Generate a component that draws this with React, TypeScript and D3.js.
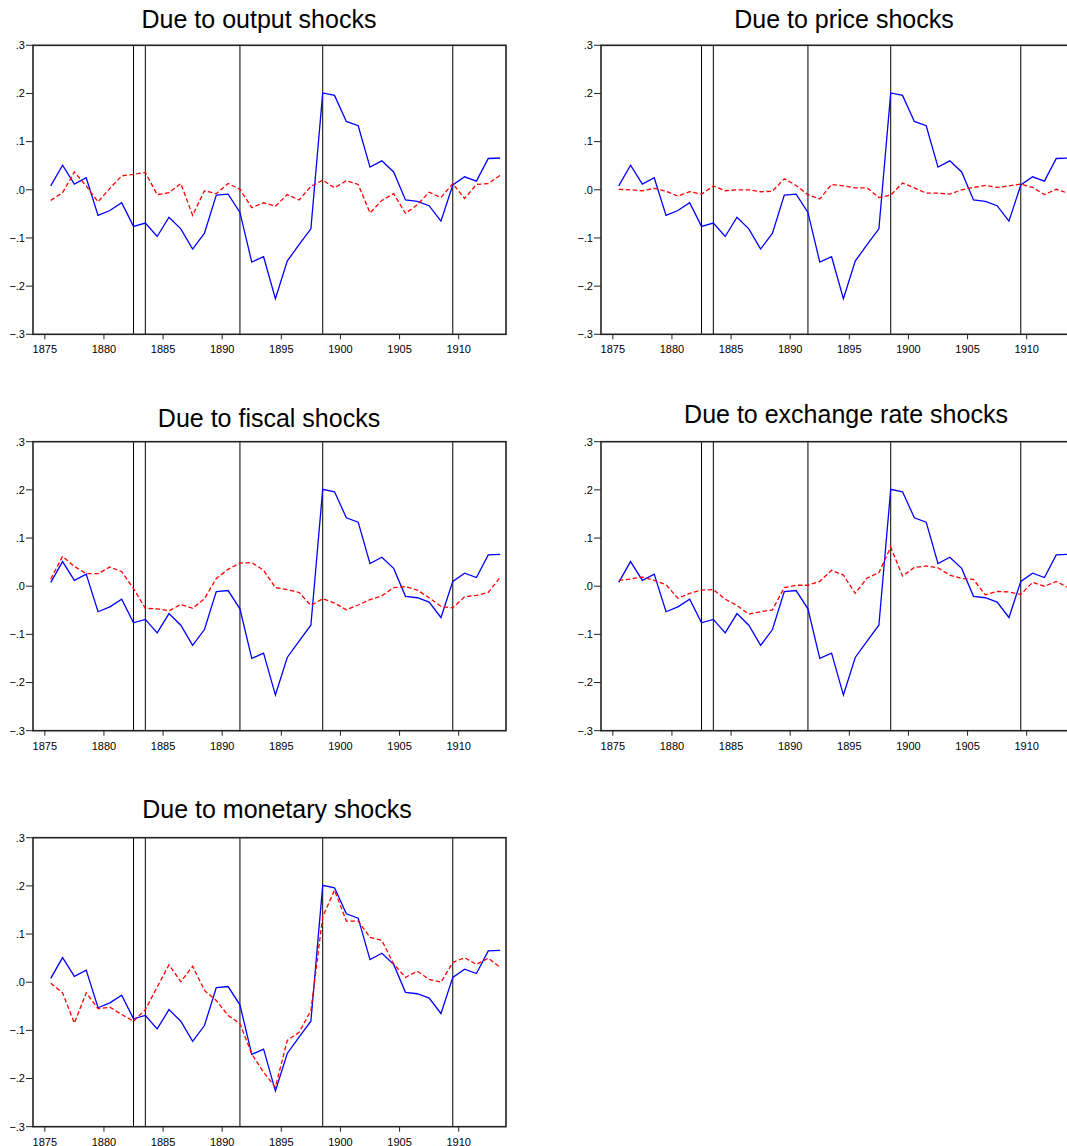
import React from 'react';
import * as d3 from 'd3';

// annual observations
const years = [
  1875, 1876, 1877, 1878, 1879, 1880, 1881, 1882, 1883, 1884,
  1885, 1886, 1887, 1888, 1889, 1890, 1891, 1892, 1893, 1894,
  1895, 1896, 1897, 1898, 1899, 1900, 1901, 1902, 1903, 1904,
  1905, 1906, 1907, 1908, 1909, 1910, 1911, 1912, 1913
];

// vertical reference lines (observation years)
const markYears = [1882, 1883, 1891, 1898, 1909];

const xTicks = [1875, 1880, 1885, 1890, 1895, 1900, 1905, 1910];
const yTicks = [-0.3, -0.2, -0.1, 0, 0.1, 0.2, 0.3];

// blue solid line, same in every panel
const actual = [
  0.008, 0.051, 0.012, 0.025, -0.053, -0.043, -0.027, -0.076, -0.069, -0.097,
  -0.057, -0.081, -0.123, -0.090, -0.011, -0.009, -0.047, -0.150, -0.139, -0.226,
  -0.148, -0.114, -0.081, 0.201, 0.196, 0.142, 0.133, 0.047, 0.060, 0.037,
  -0.021, -0.024, -0.033, -0.065, 0.010, 0.027, 0.018, 0.065, 0.066
];

// red dashed lines
const outputShocks = [
  -0.022, -0.006, 0.037, 0.008, -0.025, 0.003, 0.029, 0.032, 0.036, -0.010,
  -0.006, 0.013, -0.053, -0.002, -0.008, 0.013, 0.001, -0.037, -0.027, -0.034,
  -0.010, -0.021, 0.007, 0.020, 0.004, 0.019, 0.011, -0.048, -0.022, -0.008,
  -0.049, -0.031, -0.005, -0.016, 0.013, -0.018, 0.011, 0.013, 0.030
];

const priceShocks = [
  0.001, 0.000, -0.002, 0.003, -0.003, -0.013, -0.004, -0.009, 0.008, -0.002,
  0.000, 0.000, -0.004, -0.003, 0.023, 0.009, -0.010, -0.019, 0.011, 0.008,
  0.004, 0.004, -0.016, -0.011, 0.014, 0.004, -0.007, -0.007, -0.009, 0.000,
  0.005, 0.009, 0.005, 0.008, 0.012, 0.005, -0.010, 0.001, -0.007
];

const fiscalShocks = [
  0.015, 0.062, 0.041, 0.026, 0.026, 0.040, 0.030, -0.005, -0.046, -0.047,
  -0.051, -0.038, -0.046, -0.026, 0.016, 0.035, 0.048, 0.049, 0.033, -0.003,
  -0.007, -0.013, -0.040, -0.026, -0.035, -0.049, -0.039, -0.028, -0.020, -0.003,
  -0.001, -0.008, -0.024, -0.042, -0.045, -0.022, -0.019, -0.013, 0.018
];

const exchangeShocks = [
  0.012, 0.015, 0.019, 0.012, 0.003, -0.025, -0.015, -0.008, -0.007, -0.027,
  -0.040, -0.058, -0.053, -0.049, -0.003, 0.002, 0.002, 0.010, 0.033, 0.023,
  -0.015, 0.017, 0.028, 0.081, 0.021, 0.039, 0.042, 0.038, 0.023, 0.016,
  0.014, -0.018, -0.011, -0.012, -0.017, 0.008, 0.000, 0.010, -0.003
];

const monetaryShocks = [
  -0.002, -0.022, -0.085, -0.022, -0.055, -0.052, -0.067, -0.081, -0.057, -0.010,
  0.036, 0.001, 0.033, -0.017, -0.038, -0.069, -0.086, -0.149, -0.187, -0.218,
  -0.121, -0.104, -0.059, 0.136, 0.191, 0.127, 0.127, 0.093, 0.087, 0.038,
  0.010, 0.023, 0.006, 0.000, 0.041, 0.051, 0.037, 0.050, 0.031
];

const FONT = '"Liberation Sans", Arial, Helvetica, sans-serif';
const PW = 473;
const PH = 289;

const fmtTick = (v: number) => d3.format('.1f')(v).replace('0.', '.');

type PanelProps = {
  left: number;
  top: number;
  title: string;
  titleX: number;
  titleY: number;
  shock: number[];
};

function Panel({ left, top, title, titleX, titleY, shock }: PanelProps) {
  const x = d3.scaleLinear().domain([1874, 1914]).range([left, left + PW]);
  const y = d3.scaleLinear().domain([-0.3, 0.3]).range([top + PH, top]);
  const path = d3
    .line<number>()
    .x((_, i) => x(years[i] + 0.5))
    .y(d => y(d));

  return (
    <g>
      <text x={titleX} y={titleY} textAnchor="middle" fontSize={25} fontFamily={FONT} fill="#000">
        {title}
      </text>
      {markYears.map(yr => (
        <line key={yr} x1={x(yr + 0.5)} x2={x(yr + 0.5)} y1={top} y2={top + PH} stroke="#000" strokeWidth={1} />
      ))}
      <path d={path(actual) || ''} fill="none" stroke="#0000ff" strokeWidth={1.3} />
      <path d={path(shock) || ''} fill="none" stroke="#ff0000" strokeWidth={1.3} strokeDasharray="4.5 2.5" />
      <rect x={left} y={top} width={PW} height={PH} fill="none" stroke="#222" strokeWidth={1.6} />
      {yTicks.map(t => (
        <g key={t}>
          <line x1={left - 7} x2={left} y1={y(t)} y2={y(t)} stroke="#222" strokeWidth={1} />
          <text x={left - 8} y={y(t)} dy="0.35em" textAnchor="end" fontSize={11} fontFamily={FONT} fill="#000">
            {fmtTick(t)}
          </text>
        </g>
      ))}
      {xTicks.map(t => (
        <g key={t}>
          <line x1={x(t)} x2={x(t)} y1={top + PH} y2={top + PH + 5} stroke="#222" strokeWidth={1} />
          <text x={x(t)} y={top + PH + 19} textAnchor="middle" fontSize={11} fontFamily={FONT} fill="#000">
            {t}
          </text>
        </g>
      ))}
    </g>
  );
}

const App = () => {
  return (
    <svg
      width={1067}
      height={1146}
      style={{ position: 'absolute', left: 0, top: 0, background: '#fff' }}
    >
      <rect x={0} y={0} width={1067} height={1146} fill="#fff" />
      <Panel left={33} top={45.3} title="Due to output shocks" titleX={259} titleY={28} shock={outputShocks} />
      <Panel left={601} top={45.3} title="Due to price shocks" titleX={844} titleY={28} shock={priceShocks} />
      <Panel left={33} top={441.7} title="Due to fiscal shocks" titleX={269} titleY={427} shock={fiscalShocks} />
      <Panel left={601} top={441.7} title="Due to exchange rate shocks" titleX={846} titleY={423} shock={exchangeShocks} />
      <Panel left={33} top={837.7} title="Due to monetary shocks" titleX={277} titleY={818} shock={monetaryShocks} />
    </svg>
  );
};

export default App;
